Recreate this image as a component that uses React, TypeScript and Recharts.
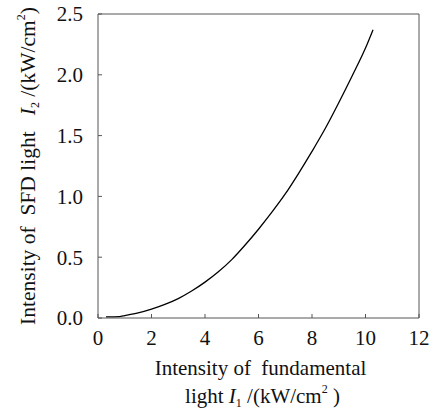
import React from "react";
import { LineChart, Line, XAxis, YAxis } from "recharts";

// fundamental light intensity I1 (kW/cm^2)
const i1 = [0.3, 0.8, 1.0, 1.5, 2.0, 2.5, 3.0, 3.5, 4.0, 4.5, 5.0, 5.5, 6.0, 6.5, 7.0, 7.5, 8.0, 8.5, 9.0, 9.5, 10.0, 10.28];
// SFD light intensity I2 (kW/cm^2)
const i2 = [0.01, 0.012, 0.02, 0.042, 0.073, 0.112, 0.16, 0.222, 0.295, 0.38, 0.48, 0.6, 0.73, 0.87, 1.02, 1.19, 1.37, 1.56, 1.77, 1.99, 2.22, 2.37];

const xTicks = [0, 2, 4, 6, 8, 10, 12];
const yTicks = [0, 0.5, 1.0, 1.5, 2.0, 2.5];

const data = i1.map((x, i) => ({ x, y: i2[i] }));

const FONT = "'Liberation Serif', 'Times New Roman', serif";
const AXIS = "#555";
const TICK_IN = 4;
const X_GAP = 12;
const Y_GAP = 15;
const NB = "\u00a0";

const BottomTick = (props: any) => {
  const { x, y, payload } = props;
  const axisY = y - X_GAP;
  return (
    <g>
      <line x1={x} y1={axisY} x2={x} y2={axisY - TICK_IN} stroke={AXIS} />
      <text x={x} y={y} dy="0.71em" textAnchor="middle" fontSize={21} fill="#111" style={{ fontFamily: FONT }}>
        {payload.value}
      </text>
    </g>
  );
};

const LeftTick = (props: any) => {
  const { x, y, payload } = props;
  const axisX = x + Y_GAP;
  return (
    <g>
      <line x1={axisX} y1={y} x2={axisX + TICK_IN} y2={y} stroke={AXIS} />
      <text x={x} y={y} dy="0.35em" textAnchor="end" fontSize={21} fill="#111" style={{ fontFamily: FONT }}>
        {Number(payload.value).toFixed(1)}
      </text>
    </g>
  );
};

const XLabel = (props: any) => {
  const { x, y, width } = props.viewBox;
  const cx = x + width / 2;
  return (
    <text fontSize={21} fill="#111" textAnchor="middle" style={{ fontFamily: FONT }}>
      <tspan x={cx + 2} y={y + 57}>{`Intensity of${NB} fundamental`}</tspan>
      <tspan x={cx + 4} y={y + 85}>
        light <tspan fontStyle="italic">I</tspan>
        <tspan fontSize={12} dy={4}>1</tspan>
        <tspan dy={-4}> /(kW/cm</tspan>
        <tspan fontSize={12} dy={-10}>2</tspan>
        <tspan dy={10}>{` )`}</tspan>
      </tspan>
    </text>
  );
};

const YLabel = (props: any) => {
  const { y, height } = props.viewBox;
  const lx = 35;
  const cy = y + height / 2;
  return (
    <text
      x={lx}
      y={cy}
      transform={`rotate(-90, ${lx}, ${cy})`}
      fontSize={21.5}
      fill="#111"
      textAnchor="middle"
      style={{ fontFamily: FONT }}
    >
      {`Intensity of${NB} SFD light${NB}${NB} `}
      <tspan fontStyle="italic">I</tspan>
      <tspan fontSize={12} dy={4}>2</tspan>
      <tspan dy={-4}>{` /(kW/cm`}</tspan>
      <tspan fontSize={12} dy={-10}>2</tspan>
      <tspan dy={10}>)</tspan>
    </text>
  );
};

export default function App() {
  return (
    <div style={{ position: "absolute", left: 0, top: 0, width: 438, height: 410, background: "#fff" }}>
      <LineChart width={438} height={410} data={data} margin={{ top: 14, right: 19, bottom: 0, left: 0 }}>
        <XAxis
          dataKey="x"
          type="number"
          domain={[0, 12]}
          ticks={xTicks}
          height={92}
          tickSize={0}
          tickMargin={X_GAP}
          tickLine={false}
          tick={<BottomTick />}
          axisLine={{ stroke: AXIS }}
          interval={0}
          label={{ content: <XLabel /> }}
        />
        <YAxis
          type="number"
          domain={[0, 2.5]}
          ticks={yTicks}
          width={98}
          tickSize={0}
          tickMargin={Y_GAP}
          tickLine={false}
          tick={<LeftTick />}
          axisLine={{ stroke: AXIS }}
          interval={0}
          label={{ content: <YLabel /> }}
        />
        <XAxis
          xAxisId="top"
          dataKey="x"
          orientation="top"
          mirror
          type="number"
          domain={[0, 12]}
          ticks={xTicks}
          tick={false}
          tickSize={TICK_IN}
          tickLine={{ stroke: AXIS }}
          axisLine={{ stroke: AXIS }}
          interval={0}
        />
        <YAxis
          yAxisId="right"
          orientation="right"
          mirror
          type="number"
          domain={[0, 2.5]}
          ticks={yTicks}
          tick={false}
          tickSize={TICK_IN}
          tickLine={{ stroke: AXIS }}
          axisLine={{ stroke: AXIS }}
          interval={0}
        />
        {/* invisible copy so the frame axes (top / right) get drawn */}
        <Line
          xAxisId="top"
          yAxisId="right"
          dataKey="y"
          stroke="none"
          dot={false}
          activeDot={false}
          isAnimationActive={false}
        />
        <Line
          type="monotone"
          dataKey="y"
          stroke="#000"
          strokeWidth={1.3}
          dot={false}
          isAnimationActive={false}
        />
      </LineChart>
    </div>
  );
}
